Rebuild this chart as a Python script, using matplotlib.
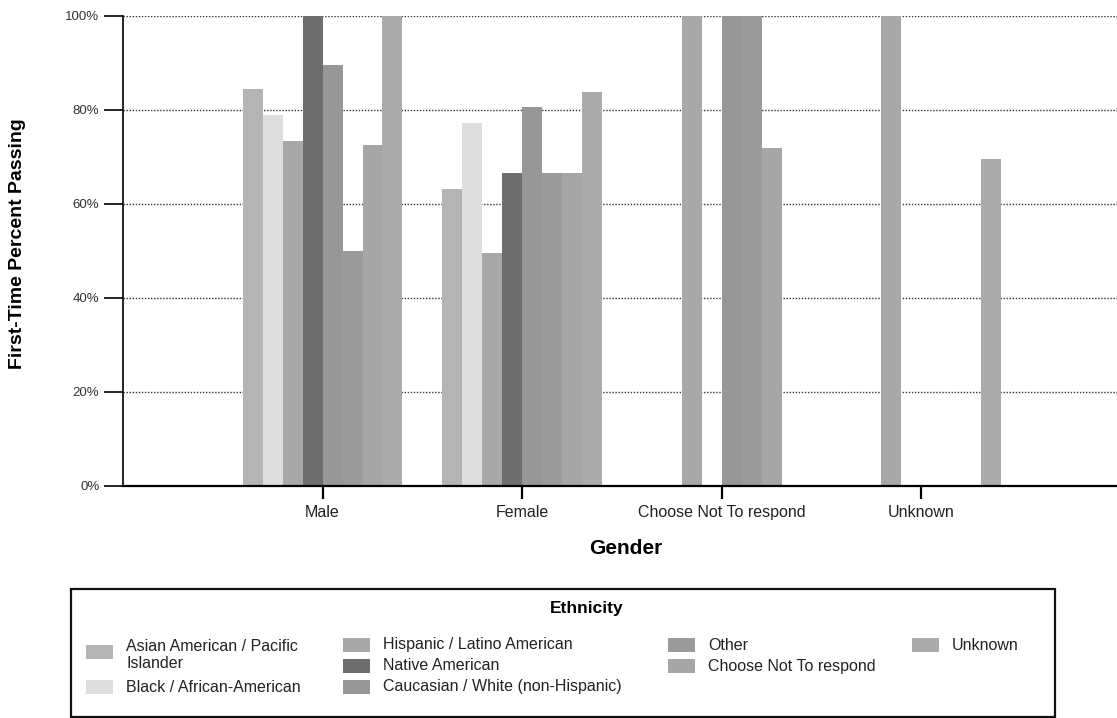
import numpy as np
import matplotlib
matplotlib.use("Agg")
import matplotlib.pyplot as plt
from matplotlib.patches import Rectangle

plt.rcParams['font.family'] = ['Liberation Sans', 'DejaVu Sans']

# values (percent passing), nan = no bar
genders = ["Male", "Female", "Choose Not To respond", "Unknown"]
ethnicities = ["Asian American / Pacific\nIslander", "Black / African-American",
               "Hispanic / Latino American", "Native American",
               "Caucasian / White (non-Hispanic)", "Other",
               "Choose Not To respond", "Unknown"]
nan = np.nan
asian = [84.5, 63.2, nan, nan]
black = [79.0, 77.3, nan, nan]
hispanic = [73.5, 49.6, 100, 100]
native = [100, 66.7, nan, nan]
caucasian = [89.5, 80.6, 100, nan]
other = [50.0, 66.7, 100, nan]
choose_not = [72.5, 66.7, 72.0, nan]
unknown = [100, 83.8, nan, 69.5]
series = [asian, black, hispanic, native, caucasian, other, choose_not, unknown]
colors = ['#b4b4b4', '#dedede', '#a8a8a8', '#6e6e6e',
          '#979797', '#9b9b9b', '#a6a6a6', '#ababab']
y_ticks = [0, 20, 40, 60, 80, 100]

W, H = 1117, 718
fig = plt.figure(figsize=(W / 100, H / 100), dpi=100)


def fx(px):
    return px / W


def fy(py):
    return 1 - py / H


ax = fig.add_axes([fx(123), fy(486), 1 - fx(123), 470 / H])

x = np.arange(len(genders))
w = 0.1
for i, (vals, c) in enumerate(zip(series, colors)):
    ax.bar(x + (i - 3.5) * w, vals, w, color=c, linewidth=0, zorder=2)

ax.set_xlim(-1.0, 3.98)
ax.set_ylim(0, 100)
ax.set_yticks(y_ticks)
ax.set_yticklabels([f"{t}%" for t in y_ticks])
ax.set_xticks(x)
ax.set_xticklabels(genders)

ax.yaxis.grid(True, linestyle=(0, (1, 1.2)), color='#333333', linewidth=1.0)
ax.set_axisbelow(True)
for s in ['top', 'right']:
    ax.spines[s].set_visible(False)
ax.spines['left'].set_linewidth(1.2)
ax.spines['bottom'].set_linewidth(1.6)
ax.tick_params(axis='y', direction='out', length=14, width=1.2,
               labelsize=9.5, labelcolor='#333333', pad=3)
ax.tick_params(axis='x', direction='out', length=9, width=1.6,
               labelsize=11.5, labelcolor='#222222', pad=5)

fig.text(fx(18), fy(244), "First-Time Percent Passing", rotation=90,
         ha='center', va='center', fontsize=14, fontweight='bold')
fig.text(fx(626), fy(548), "Gender", ha='center', va='center',
         fontsize=15, fontweight='bold')

# legend box, laid out like the original (4 columns, Asian label wraps)
fig.patches.append(Rectangle((fx(71), fy(717)), fx(1055) - fx(71), (717 - 589) / H,
                             transform=fig.transFigure, fill=False,
                             edgecolor='#111111', linewidth=1.6))
fig.text(fx(587), fy(609), "Ethnicity", ha='center', va='center',
         fontsize=12.5, fontweight='bold')
slots = [(86, 652), (86, 687), (343, 645), (343, 666), (343, 687),
         (668, 645), (668, 666), (912, 645)]
for (px, py), lab, c in zip(slots, ethnicities, colors):
    fig.patches.append(Rectangle((fx(px), fy(py + 7)), 27 / W, 14 / H,
                                 transform=fig.transFigure, facecolor=c,
                                 edgecolor='none'))
    ty = py + 3 if "\n" in lab else py
    fig.text(fx(px + 40), fy(ty), lab, ha='left', va='center',
             fontsize=11.5, color='#222222', linespacing=1.1)

fig.savefig("out.png", dpi=100)
